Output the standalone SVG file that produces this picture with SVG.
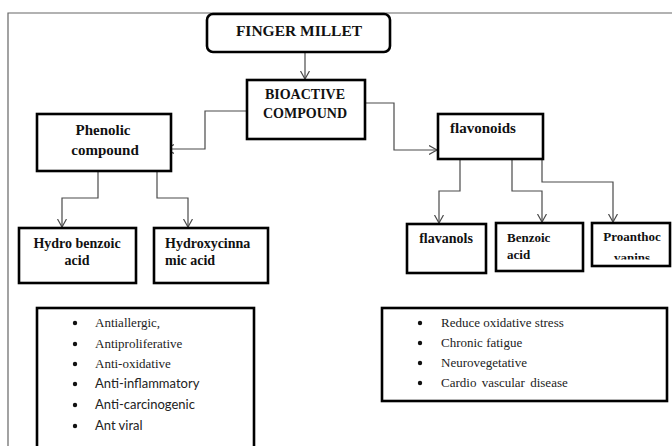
<svg xmlns="http://www.w3.org/2000/svg" width="672" height="446" viewBox="0 0 672 446">
<style>
.box{fill:#fff;stroke:#000;stroke-width:2.6}
.lbl{font-family:"Liberation Serif","Times New Roman",serif;font-weight:bold;fill:#111}
.con{fill:none;stroke:#4a4a4a;stroke-width:1.2}
.ser{font-family:"Liberation Serif","Times New Roman",serif;font-size:13px;fill:#222}
.san{font-family:Lato,"Liberation Sans",sans-serif;font-size:13px;fill:#222}
.frame{stroke:#666;stroke-width:1.2;fill:none}
</style>
<defs>
<marker id="arr" markerUnits="userSpaceOnUse" markerWidth="12" markerHeight="12" refX="8" refY="5" orient="auto">
<path d="M0,0.5 L8,5 L0,9.5" fill="none" stroke="#4a4a4a" stroke-width="1.2"/>
</marker>
<clipPath id="pclip"><rect x="592" y="223" width="80" height="36.5"/></clipPath>
</defs>
<rect width="672" height="446" fill="#fff"/>
<path class="frame" d="M8,446 V13 H672"/>

<g id="connectors">
<path class="con" d="M305,52 V79" marker-end="url(#arr)"/>
<path class="con" d="M247,111 H205 V149 H166" marker-end="url(#arr)"/>
<path class="con" d="M365,103 H394 V150 H437" marker-end="url(#arr)"/>
<path class="con" d="M98,171 V198 H62 V227" marker-end="url(#arr)"/>
<path class="con" d="M157,171 V198 H188 V227" marker-end="url(#arr)"/>
<path class="con" d="M460,159 V191 H439 V223" marker-end="url(#arr)"/>
<path class="con" d="M512,159 V191 H542 V222" marker-end="url(#arr)"/>
<path class="con" d="M542,159 V182 H613 V222" marker-end="url(#arr)"/>
</g>

<g id="finger-millet">
<rect class="box" x="207" y="14" width="183" height="38" rx="6"/>
<text class="lbl" x="299" y="36" font-size="15.5" text-anchor="middle">FINGER MILLET</text>
</g>

<g id="bioactive">
<rect class="box" x="247" y="80" width="118" height="59"/>
<text class="lbl" x="305" y="99" font-size="14" text-anchor="middle">BIOACTIVE</text>
<text class="lbl" x="305" y="118" font-size="14" text-anchor="middle">COMPOUND</text>
</g>

<g id="phenolic">
<rect class="box" x="37" y="114" width="134" height="57"/>
<text class="lbl" x="103" y="135" font-size="15" text-anchor="middle">Phenolic</text>
<text class="lbl" x="105" y="155" font-size="15" text-anchor="middle">compound</text>
</g>

<g id="flavonoids">
<rect class="box" x="438" y="114" width="105" height="45"/>
<text class="lbl" x="450" y="133" font-size="15">flavonoids</text>
</g>

<g id="hydro-benzoic">
<rect class="box" x="19" y="228" width="117" height="55"/>
<text class="lbl" x="77" y="248" font-size="14" text-anchor="middle">Hydro benzoic</text>
<text class="lbl" x="77" y="265" font-size="14" text-anchor="middle">acid</text>
</g>

<g id="hydroxycinnamic">
<rect class="box" x="154" y="228" width="114" height="55"/>
<text class="lbl" x="165" y="248" font-size="14">Hydroxycinna</text>
<text class="lbl" x="165" y="265" font-size="14">mic acid</text>
</g>

<g id="flavanols">
<rect class="box" x="407" y="224" width="79" height="49"/>
<text class="lbl" x="446" y="243" font-size="14" text-anchor="middle">flavanols</text>
</g>

<g id="benzoic">
<rect class="box" x="496" y="223" width="87" height="48"/>
<text class="lbl" x="507" y="242" font-size="13">Benzoic</text>
<text class="lbl" x="507" y="259" font-size="13">acid</text>
</g>

<g id="proanthocyanins">
<rect class="box" x="592" y="223" width="78" height="43"/>
<g clip-path="url(#pclip)">
<text class="lbl" x="632" y="241" font-size="13" text-anchor="middle">Proanthoc</text>
<text class="lbl" x="632" y="262" font-size="13" text-anchor="middle">vanins</text>
</g>
</g>

<g id="phenolic-effects">
<rect class="box" x="37" y="308" width="217" height="150"/>
<g fill="#111">
<circle cx="75" cy="323" r="2.2"/>
<circle cx="75" cy="344" r="2.2"/>
<circle cx="75" cy="364" r="2.2"/>
<circle cx="75" cy="384" r="2.2"/>
<circle cx="75" cy="405" r="2.2"/>
<circle cx="75" cy="426" r="2.2"/>
</g>
<text class="ser" x="95" y="327">Antiallergic,</text>
<text class="ser" x="95" y="348">Antiproliferative</text>
<text class="ser" x="95" y="368">Anti-oxidative</text>
<text class="san" x="95" y="388">Anti-inflammatory</text>
<text class="san" x="95" y="409">Anti-carcinogenic</text>
<text class="san" x="95" y="430">Ant viral</text>
</g>

<g id="flavonoid-effects">
<rect class="box" x="382" y="308" width="285" height="93"/>
<g fill="#111">
<circle cx="420" cy="323" r="2.2"/>
<circle cx="420" cy="343" r="2.2"/>
<circle cx="420" cy="363" r="2.2"/>
<circle cx="420" cy="383" r="2.2"/>
</g>
<text class="ser" x="441" y="327">Reduce oxidative stress</text>
<text class="ser" x="441" y="347">Chronic fatigue</text>
<text class="ser" x="441" y="367">Neurovegetative</text>
<text class="ser" x="441" y="387" word-spacing="2">Cardio vascular disease</text>
</g>
</svg>
